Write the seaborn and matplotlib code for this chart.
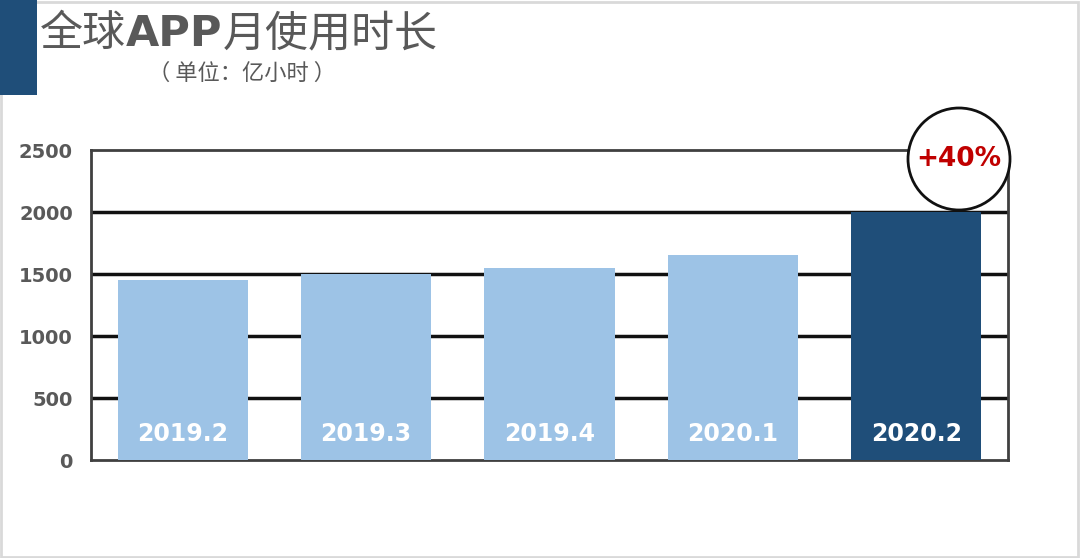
import matplotlib
matplotlib.use("Agg")
import matplotlib.pyplot as plt
from matplotlib.patches import Ellipse, Rectangle
import seaborn as sns
import pandas as pd

# data
periods = ["2019.2", "2019.3", "2019.4", "2020.1", "2020.2"]
hours = [1450, 1500, 1550, 1650, 2000]
bar_colors = ["#9DC3E6", "#9DC3E6", "#9DC3E6", "#9DC3E6", "#1F4E79"]
yticks = [0, 500, 1000, 1500, 2000, 2500]
growth = "+40%"

sns.set_style("white")
plt.rcParams["font.family"] = ["Noto Sans CJK SC", "DejaVu Sans"]

W, H = 1080, 558
fig = plt.figure(figsize=(W / 100, H / 100), dpi=100)

# page border and left accent block
fig.patches.append(Rectangle((0.001, 0.002), 0.997, 0.995, transform=fig.transFigure,
                             fill=False, edgecolor="#D9D9D9", lw=2, zorder=0))
fig.patches.append(Rectangle((0, 1 - 95 / H), 37 / W, 95 / H, transform=fig.transFigure,
                             facecolor="#1F4E79", edgecolor="none", zorder=1))

ax = fig.add_axes([91 / W, (H - 460) / H, 917 / W, 310 / H])
df = pd.DataFrame({"period": periods, "hours": hours})
sns.barplot(data=df, x="period", y="hours", hue="period", palette=bar_colors,
            legend=False, width=0.71, saturation=1, linewidth=0, ax=ax, zorder=3)

ax.set_ylim(0, 2500)
ax.set_yticks(yticks)
ax.set_yticklabels([str(t) for t in yticks], fontsize=14, fontweight="bold",
                   color="#595959", family="DejaVu Sans")
ax.tick_params(axis="y", length=0, pad=13)
ax.set_xticks([])
ax.set_xlabel("")
ax.set_ylabel("")
for t in yticks[1:-1]:
    ax.axhline(t, color="#111111", lw=2.5, zorder=2)
for s in ax.spines.values():
    s.set_color("#404040")
    s.set_linewidth(2)

# labels inside bars
for i, p in enumerate(periods):
    ax.text(i, 210, p, ha="center", va="center", color="white",
            fontsize=17, fontweight="bold", family="DejaVu Sans", zorder=4)

# growth callout circle
cx, cy, r = 959, 159, 51
fig.patches.append(Ellipse((cx / W, 1 - cy / H), 2 * r / W, 2 * r / H,
                           transform=fig.transFigure, facecolor="white",
                           edgecolor="#111111", lw=2, zorder=5))
fig.text(cx / W, 1 - cy / H, growth, ha="center", va="center", color="#C00000",
         fontsize=19, fontweight="bold", family="DejaVu Sans", zorder=6)

# title built from pieces so that "APP" is bold
fig.canvas.draw()
renderer = fig.canvas.get_renderer()
x = 40 / W
ty = 1 - 34 / H
for piece, wt, fam in [("全球", "normal", None), ("APP", "bold", "DejaVu Sans"),
                       ("月使用时长", "normal", None)]:
    kw = {"family": fam} if fam else {}
    t = fig.text(x, ty, piece, ha="left", va="center", fontsize=31,
                 fontweight=wt, color="#595959", **kw)
    bb = t.get_window_extent(renderer=renderer)
    x += bb.width / W

fig.text(148 / W, 1 - 73 / H, "（ 单位：亿小时 ）", ha="left", va="center",
         fontsize=16, color="#595959")

fig.savefig("out.png", dpi=100)
